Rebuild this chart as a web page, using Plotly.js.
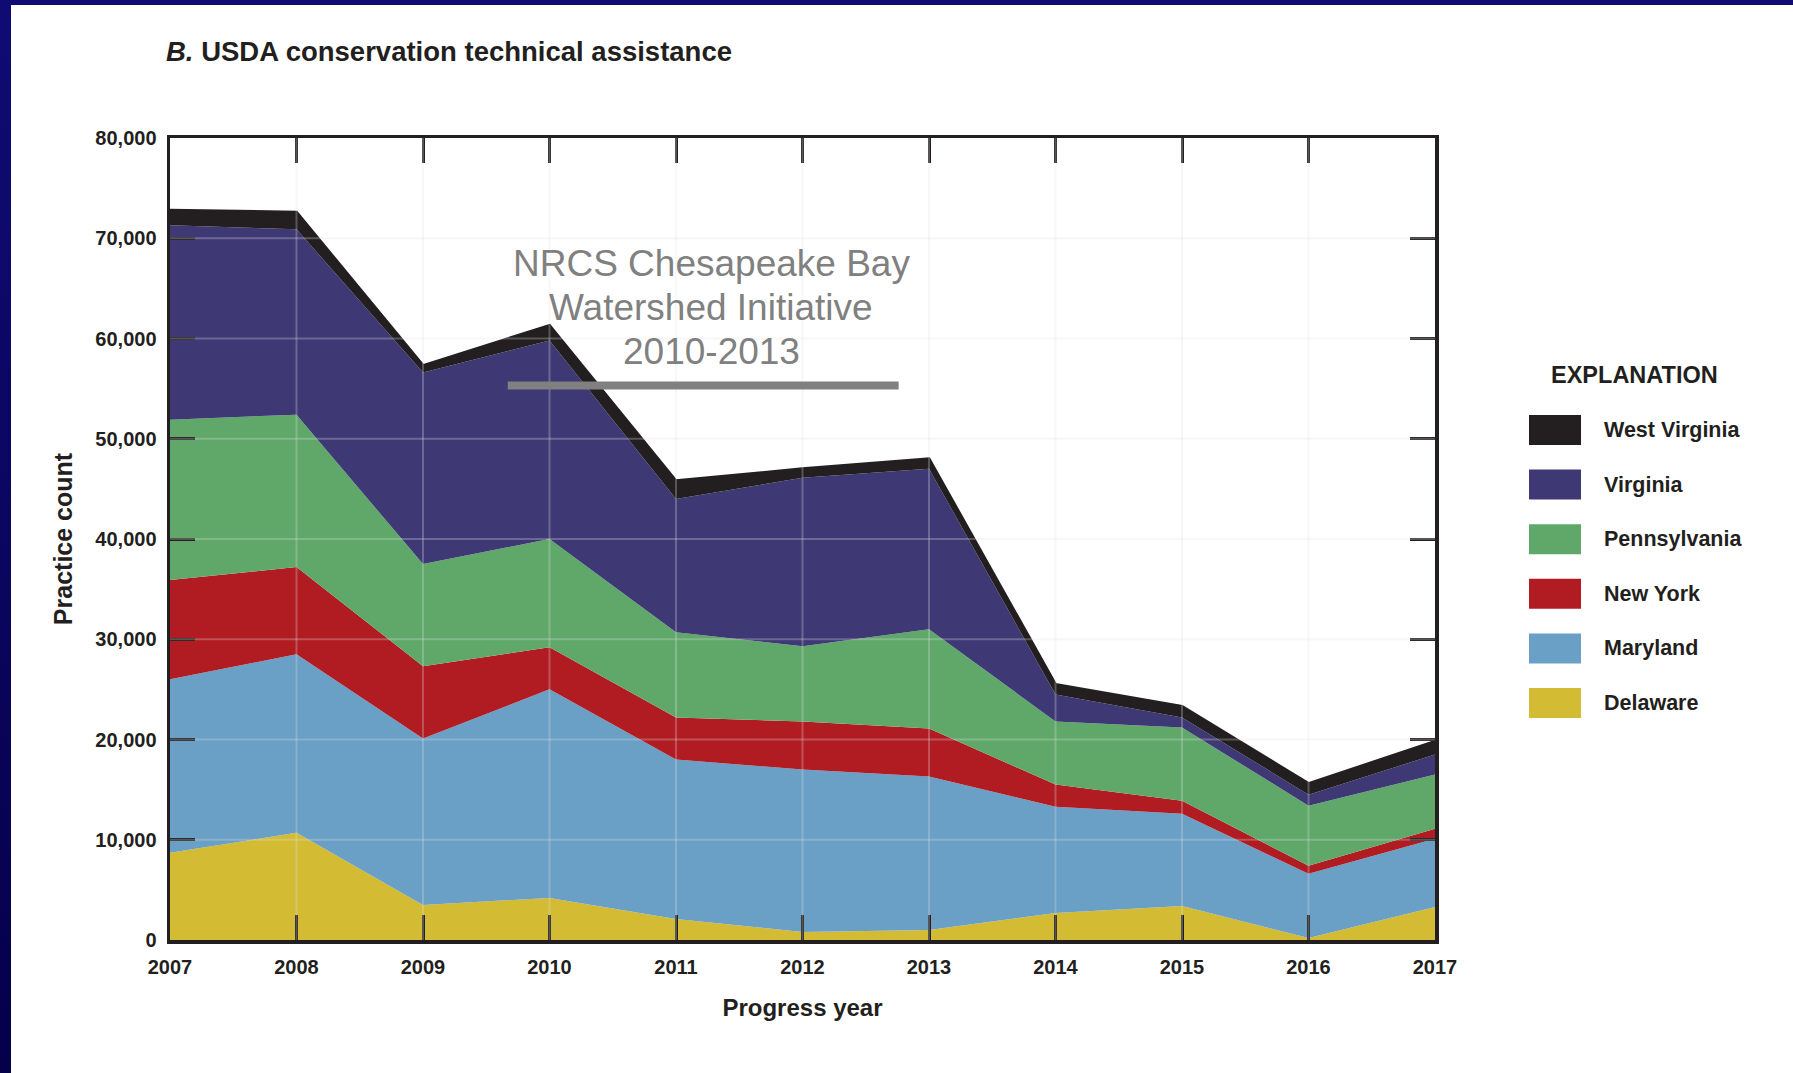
<!DOCTYPE html>
<html>
<head>
<meta charset="utf-8">
<script src="https://cdn.plot.ly/plotly-3.0.1.min.js"></script>
<style>
  html, body { margin: 0; padding: 0; width: 1793px; height: 1073px; overflow: hidden;
    background: linear-gradient(to bottom, #100b74, #05004a); }
  #chart { position: absolute; left: 11px; top: 5px; width: 1782px; height: 1068px; background: #ffffff; }
</style>
</head>
<body>
<div id="chart"></div>
<script>
// ---- data ----
const years = [2007, 2008, 2009, 2010, 2011, 2012, 2013, 2014, 2015, 2016, 2017];
const yearLabels = ['2007','2008','2009','2010','2011','2012','2013','2014','2015','2016','2017'];

const delaware     = [8700, 10700, 3500, 4200, 2100,  800, 1000, 2700, 3400,  200, 3300];
const maryland     = [17300, 17800, 16600, 20800, 15900, 16200, 15300, 10600, 9200, 6400, 6800];
const newYork      = [9900, 8700, 7200, 4200, 4200, 4800, 4800, 2200, 1300,  800, 1000];
const pennsylvania = [16000, 15200, 10200, 10800, 8500, 7500, 9900, 6300, 7300, 6000, 5400];
const virginia     = [19400, 18500, 19100, 19800, 13300, 16800, 16000, 2700, 1000, 1100, 2000];
const westVirginia = [1500, 1700, 700, 1500, 1800, 900, 1000, 1000, 1100, 1100, 1300];

const yTickVals = [0, 10000, 20000, 30000, 40000, 50000, 60000, 70000, 80000];
const yTickText = ['0','10,000','20,000','30,000','40,000','50,000','60,000','70,000','80,000'];

const stateNames  = ['Delaware', 'Maryland', 'New York', 'Pennsylvania', 'Virginia', 'West Virginia'];
const stateValues = [delaware, maryland, newYork, pennsylvania, virginia, westVirginia];
const stateColors = ['#d3bb34', '#6a9fc6', '#b01c22', '#5fa869', '#3e3975', '#231f20'];

const annoLines = ['NRCS Chesapeake Bay', 'Watershed Initiative', '2010-2013'];
const annoLineY = [67500, 63100, 58700];
const annoX = 2011.28;
const initiativeStart = 2009.67, initiativeEnd = 2012.76, initiativeLevel = 55300;

// ---- styling ----
const FONT = '"Liberation Sans", Arial, sans-serif';
const INK = '#231f20';
const W = 1782, H = 1068;
const M = { l: 159, r: 358, t: 133, b: 133 };
const PW = W - M.l - M.r, PH = H - M.t - M.b;
const pxX = x => (x - M.l) / PW;          // div pixel -> paper x
const pxY = y => 1 - (y - M.t) / PH;      // div pixel -> paper y

const traces = stateNames.map((name, i) => ({
  type: 'scatter',
  mode: 'lines',
  name: name,
  x: years,
  y: stateValues[i],
  stackgroup: 'one',
  fillcolor: stateColors[i],
  line: { color: stateColors[i], width: name === 'West Virginia' ? 3 : 0 },
  showlegend: false,
  hoverinfo: 'skip'
}));

const shapes = [];
const gridColor = 'rgba(225,225,225,0.28)';
years.slice(1, -1).forEach(yr => shapes.push({
  type: 'line', xref: 'x', yref: 'y', x0: yr, x1: yr, y0: 0, y1: 80000,
  line: { color: gridColor, width: 2 }, layer: 'above'
}));
yTickVals.slice(1, -1).forEach(v => shapes.push({
  type: 'line', xref: 'x', yref: 'y', x0: years[0], x1: years[years.length - 1], y0: v, y1: v,
  line: { color: gridColor, width: 2 }, layer: 'above'
}));
// initiative bar
shapes.push({
  type: 'line', xref: 'x', yref: 'y', x0: initiativeStart, x1: initiativeEnd,
  y0: initiativeLevel, y1: initiativeLevel, line: { color: '#808080', width: 8 }, layer: 'above'
});

const annotations = annoLines.map((t, i) => ({
  xref: 'x', yref: 'y', x: annoX, y: annoLineY[i], xanchor: 'center', yanchor: 'middle',
  text: t, showarrow: false, align: 'center',
  font: { family: FONT, size: 37, color: '#808080' }
}));

// custom legend ("EXPLANATION")
const legendOrder = stateNames.slice().reverse();
const legendColors = stateColors.slice().reverse();
annotations.push({
  xref: 'paper', yref: 'paper', x: pxX(1623), y: pxY(370), xanchor: 'center', yanchor: 'middle',
  text: '<b>EXPLANATION</b>', showarrow: false,
  font: { family: FONT, size: 23.5, color: INK }
});
legendOrder.forEach((name, i) => {
  const cy = 425 + i * 54.6;
  shapes.push({
    type: 'rect', xref: 'paper', yref: 'paper',
    x0: pxX(1518), x1: pxX(1570), y0: pxY(cy - 15), y1: pxY(cy + 15),
    fillcolor: legendColors[i], line: { width: 0 }, layer: 'above'
  });
  annotations.push({
    xref: 'paper', yref: 'paper', x: pxX(1591), y: pxY(cy), xanchor: 'left', yanchor: 'middle',
    text: '<b>' + name + '</b>', showarrow: false,
    font: { family: FONT, size: 21.5, color: INK }
  });
});

const axisCommon = {
  showline: true, linewidth: 3.5, linecolor: INK, mirror: 'ticks',
  ticks: 'inside', ticklen: 25, tickwidth: 3, tickcolor: INK,
  showgrid: false, zeroline: false, fixedrange: true,
  tickfont: { family: FONT, size: 20, color: INK, weight: 'bold' }
};

const layout = {
  width: W, height: H,
  margin: M,
  paper_bgcolor: '#ffffff', plot_bgcolor: '#ffffff',
  title: {
    text: '<b><i>B.</i> USDA conservation technical assistance</b>',
    xref: 'container', yref: 'container', x: 155 / W, y: 1 - 46 / H,
    xanchor: 'left', yanchor: 'middle',
    font: { family: FONT, size: 27.5, color: INK }
  },
  xaxis: Object.assign({}, axisCommon, {
    range: [years[0], years[years.length - 1]],
    tickvals: years, ticktext: yearLabels,
    ticklabelstandoff: 6,
    title: { text: '<b>Progress year</b>', standoff: 23,
      font: { family: FONT, size: 24, color: INK } }
  }),
  yaxis: Object.assign({}, axisCommon, {
    range: [0, 80000],
    tickvals: yTickVals, ticktext: yTickText,
    ticklabelstandoff: 6,
    title: { text: '<b>Practice count</b>', standoff: 16,
      font: { family: FONT, size: 25, color: INK } }
  }),
  shapes: shapes,
  annotations: annotations,
  hovermode: false,
  showlegend: false
};

Plotly.newPlot('chart', traces, layout, { displayModeBar: false, staticPlot: true });
</script>
</body>
</html>
